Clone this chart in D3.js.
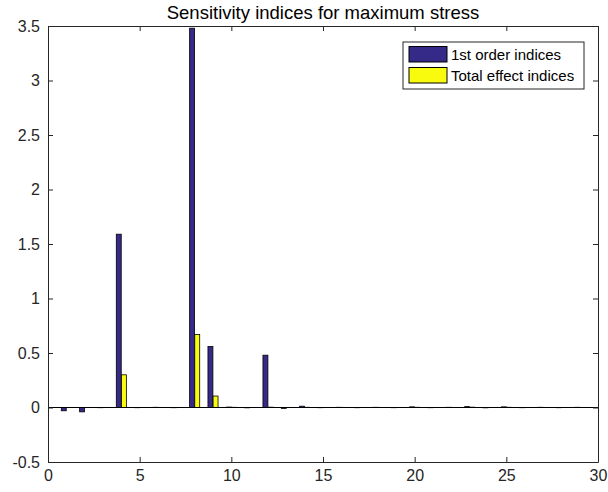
<!DOCTYPE html>
<html>
<head>
<meta charset="utf-8">
<script src="https://cdn.jsdelivr.net/npm/d3@7"></script>
<style>
  html, body { margin: 0; padding: 0; background: #fff; }
  svg { display: block; font-family: "Liberation Sans", Arial, sans-serif; }
</style>
</head>
<body>
<svg id="chart" width="608" height="492"></svg>
<script>
// Input parameter index (1..29)
const params = d3.range(1, 30);
// First-order sensitivity indices
const firstOrder = [-0.03, -0.04, -0.002, 1.59, -0.002, 0.002, -0.002, 3.48, 0.56, 0.004,
  -0.003, 0.48, -0.008, 0.012, -0.002, 0.002, -0.002, 0.002, -0.002, 0.006,
  -0.002, 0.002, 0.008, -0.003, 0.006, -0.002, 0.002, -0.002, 0.002];
// Total-effect sensitivity indices
const totalEffect = [0.001, 0.001, 0.001, 0.30, 0.001, 0.001, 0.001, 0.67, 0.105, 0.002,
  0.001, 0.003, 0.001, 0.002, 0.001, 0.001, 0.001, 0.001, 0.001, 0.002,
  0.001, 0.001, 0.003, 0.001, 0.002, 0.001, 0.001, 0.001, 0.001];
const seriesNames = ["1st order indices", "Total effect indices"];
const seriesColors = ["#352a87", "#f9fb0e"];
const xTicks = [0, 5, 10, 15, 20, 25, 30];
const yTicks = [-0.5, 0, 0.5, 1, 1.5, 2, 2.5, 3, 3.5];
const title = "Sensitivity indices for maximum stress";

const axisColor = "#262626";
const svg = d3.select("#chart");
const m = { left: 48, right: 598, top: 26, bottom: 462 };

const x = d3.scaleLinear().domain([0, 30]).range([m.left, m.right]);
const y = d3.scaleLinear().domain([-0.5, 3.5]).range([m.bottom, m.top]);

// Grouped bars: two series side by side around each parameter index
const offset = 0.14, barW = 0.27;
const series = [firstOrder, totalEffect];
series.forEach((vals, s) => {
  svg.append("g").selectAll("rect")
    .data(params.map((p, i) => ({ p, v: vals[i] })))
    .join("rect")
    .attr("x", d => x(d.p + (s === 0 ? -offset : offset) - barW / 2))
    .attr("width", x(barW) - x(0))
    .attr("y", d => y(Math.max(0, d.v)))
    .attr("height", d => Math.abs(y(d.v) - y(0)))
    .attr("fill", seriesColors[s])
    .attr("stroke", "#000")
    .attr("stroke-width", 0.8);
});

// Baseline at zero
svg.append("line")
  .attr("x1", m.left).attr("x2", m.right)
  .attr("y1", y(0)).attr("y2", y(0))
  .attr("stroke", "#000").attr("stroke-width", 1);

// Axes box with inward ticks on all four sides
const tickLen = 5;
const gBottom = svg.append("g").attr("transform", `translate(0,${m.bottom})`)
  .call(d3.axisBottom(x).tickValues(xTicks).tickFormat(d3.format("d")).tickSizeInner(-tickLen).tickSizeOuter(0).tickPadding(8));
const gTop = svg.append("g").attr("transform", `translate(0,${m.top})`)
  .call(d3.axisTop(x).tickValues(xTicks).tickFormat("").tickSizeInner(-tickLen).tickSizeOuter(0));
const gLeft = svg.append("g").attr("transform", `translate(${m.left},0)`)
  .call(d3.axisLeft(y).tickValues(yTicks).tickFormat(d => String(d)).tickSizeInner(-tickLen).tickSizeOuter(0).tickPadding(8));
const gRight = svg.append("g").attr("transform", `translate(${m.right},0)`)
  .call(d3.axisRight(y).tickValues(yTicks).tickFormat("").tickSizeInner(-tickLen).tickSizeOuter(0));

[gBottom, gTop, gLeft, gRight].forEach(g => {
  g.selectAll("path.domain").attr("stroke", axisColor).attr("stroke-width", 1);
  g.selectAll(".tick line").attr("stroke", axisColor);
  g.selectAll("text").attr("fill", axisColor).style("font-size", "16px")
    .style("font-family", "'Liberation Sans', Arial, sans-serif");
});

// Title
svg.append("text")
  .attr("x", (m.left + m.right) / 2).attr("y", 19)
  .attr("text-anchor", "middle")
  .attr("fill", "#000")
  .style("font-size", "18.5px")
  .text(title);

// Legend
const legend = svg.append("g").attr("transform", "translate(403,42)");
legend.append("rect").attr("width", 181).attr("height", 47)
  .attr("fill", "#fff").attr("stroke", axisColor).attr("stroke-width", 1);
seriesNames.forEach((name, i) => {
  const row = legend.append("g").attr("transform", `translate(6,${4.5 + i * 21})`);
  row.append("rect").attr("width", 38).attr("height", 15.5)
    .attr("fill", seriesColors[i]).attr("stroke", "#000").attr("stroke-width", 1);
  row.append("text").attr("x", 42).attr("y", 13)
    .attr("fill", "#000").style("font-size", "15px").text(name);
});
</script>
</body>
</html>
